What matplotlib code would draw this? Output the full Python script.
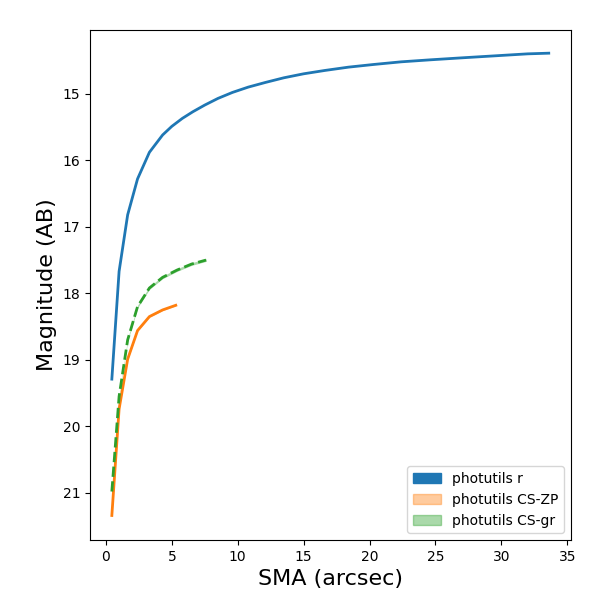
import matplotlib
matplotlib.use("Agg")
import matplotlib.pyplot as plt
from matplotlib.patches import Patch

# Blue: photutils r
sma_r = [0.45, 1.0, 1.65, 2.4, 3.3, 4.3, 5.0, 5.8, 6.6, 7.5, 8.5, 9.6, 10.8,
         12.1, 13.5, 15.0, 16.6, 18.4, 20.3, 22.4, 24.6, 27.0, 29.5, 32.0, 33.6]
mag_r = [19.29, 17.67, 16.82, 16.28, 15.88, 15.62, 15.49, 15.37, 15.27, 15.17,
         15.07, 14.98, 14.90, 14.83, 14.76, 14.70, 14.65, 14.60, 14.56, 14.52,
         14.49, 14.46, 14.43, 14.40, 14.39]

# Orange: photutils CS-ZP
sma_zp = [0.45, 1.0, 1.65, 2.4, 3.3, 4.3, 5.3]
mag_zp = [21.34, 19.74, 18.99, 18.56, 18.35, 18.25, 18.18]
err_zp = [0.02, 0.01, 0.01, 0.01, 0.01, 0.01, 0.01]

# Green: photutils CS-gr
sma_gr = [0.45, 1.0, 1.65, 2.4, 3.3, 4.3, 5.4, 6.5, 7.6]
mag_gr = [20.98, 19.55, 18.70, 18.20, 17.92, 17.76, 17.65, 17.56, 17.50]
err_gr = [0.03, 0.02, 0.02, 0.02, 0.02, 0.02, 0.02, 0.02, 0.02]

labels = ["photutils r", "photutils CS-ZP", "photutils CS-gr"]

fig = plt.figure(figsize=(6, 6), dpi=100)
ax = fig.add_axes([0.15, 0.10, 0.801, 0.85])

ax.plot(sma_r, mag_r, color="C0", lw=2)
ax.fill_between(sma_zp, [m - e for m, e in zip(mag_zp, err_zp)],
                [m + e for m, e in zip(mag_zp, err_zp)], color="C1", alpha=0.4, lw=0)
ax.plot(sma_zp, mag_zp, color="C1", lw=2)
ax.fill_between(sma_gr, [m - e for m, e in zip(mag_gr, err_gr)],
                [m + e for m, e in zip(mag_gr, err_gr)], color="C2", alpha=0.4, lw=0)
ax.plot(sma_gr, mag_gr, color="C2", lw=2, ls="--")

ax.invert_yaxis()
ax.set_xlabel("SMA (arcsec)", fontsize=16)
ax.set_ylabel("Magnitude (AB)", fontsize=16)

handles = [Patch(color="C0", alpha=1.0),
           Patch(color="C1", alpha=0.4),
           Patch(color="C2", alpha=0.4)]
ax.legend(handles, labels, loc="lower right")

fig.savefig("out.png", dpi=100)
